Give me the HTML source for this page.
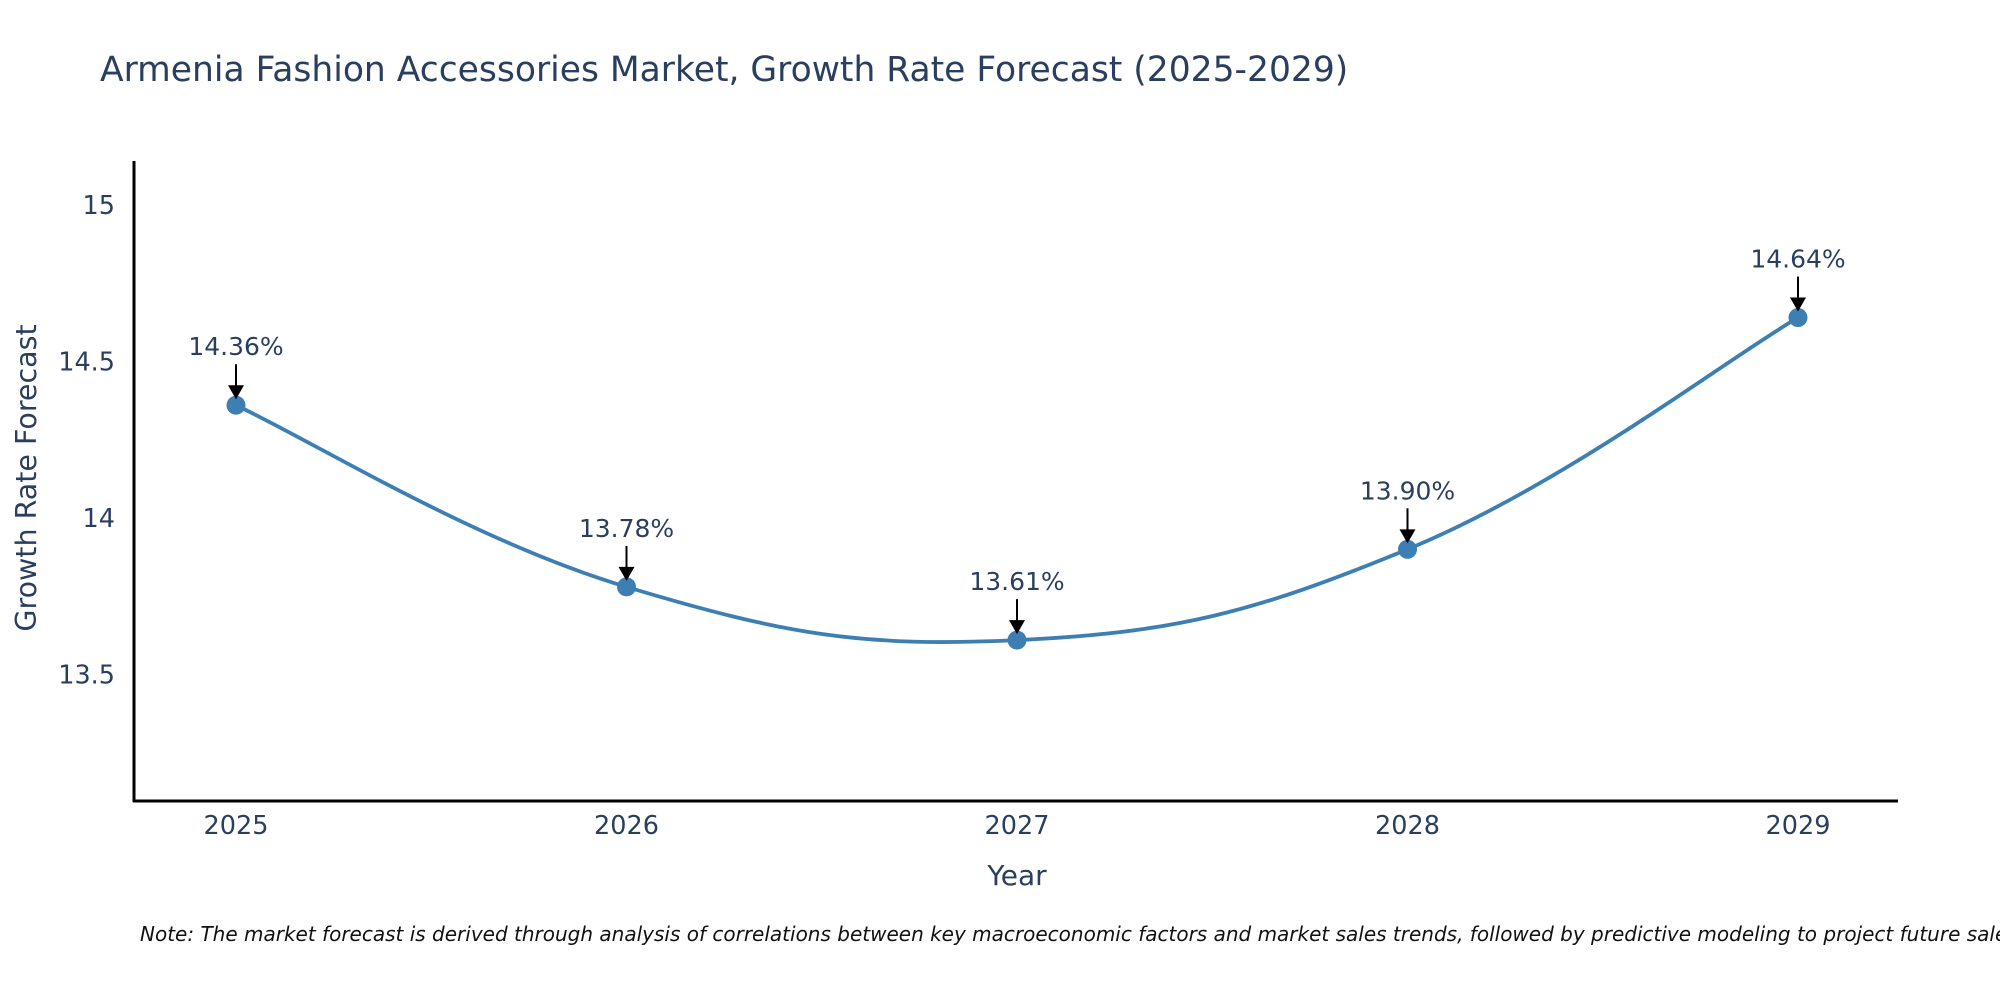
<!DOCTYPE html>
<html><head><meta charset="utf-8"><style>
html,body{margin:0;padding:0;background:#fff;}
svg{display:block;font-family:"DejaVu Sans","Liberation Sans",sans-serif;}
</style></head><body>
<svg id="chart" width="2000" height="1000" viewBox="0 0 2000 1000">
<text x="100" y="81" font-size="34.5" fill="#2a3f5f">Armenia Fashion Accessories Market, Growth Rate Forecast (2025-2029)</text>
<g id="yticks"></g>
<g id="xticks"></g>
<line x1="134" y1="161" x2="134" y2="802" stroke="#000" stroke-width="3"/>
<line x1="133" y1="801" x2="1898" y2="801" stroke="#000" stroke-width="3"/>
<path id="line" fill="none" stroke="#3d7fb3" stroke-width="3.8"/>
<g id="marks"></g>
<text x="1017" y="885" font-size="28" fill="#2a3f5f" text-anchor="middle">Year</text>
<text transform="translate(36,478) rotate(-90)" font-size="28.5" fill="#2a3f5f" text-anchor="middle">Growth Rate Forecast</text>
<text x="140" y="941" font-size="20" font-style="italic" fill="#111">Note: The market forecast is derived through analysis of correlations between key macroeconomic factors and market sales trends, followed by predictive modeling to project future sales.</text>
</svg>
<script>
const years = [2025, 2026, 2027, 2028, 2029];
const values = [14.36, 13.78, 13.61, 13.90, 14.64];
const labels = ["14.36%", "13.78%", "13.61%", "13.90%", "14.64%"];
const yTicks = [13.5, 14, 14.5, 15];

const NS = "http://www.w3.org/2000/svg";
const xS = v => 236 + (v - 2025) * 390.5;
const yS = v => 518 - (v - 14) * 313.2;
function mk(tag, attrs, parent) {
  const e = document.createElementNS(NS, tag);
  for (const k in attrs) e.setAttribute(k, attrs[k]);
  parent.appendChild(e);
  return e;
}
const yt = document.getElementById('yticks');
yTicks.forEach(t => {
  const e = mk('text', {x: 115, y: yS(t) + 9, 'font-size': 25.5, fill: '#2a3f5f', 'text-anchor': 'end'}, yt);
  
  
  e.textContent = String(t);
});
const xt = document.getElementById('xticks');
years.forEach(y => {
  const e = mk('text', {x: xS(y), y: 834, 'font-size': 25.5, fill: '#2a3f5f', 'text-anchor': 'middle'}, xt);
  
  
  e.textContent = String(y);
});
const pts = years.map((y, i) => [xS(y), yS(values[i])]);
let d = `M${pts[0][0]},${pts[0][1]}`;
const t = 0.2;
for (let i = 0; i < pts.length - 1; i++) {
  const p0 = pts[Math.max(0, i - 1)], p1 = pts[i], p2 = pts[i + 1], p3 = pts[Math.min(pts.length - 1, i + 2)];
  const c1 = [p1[0] + (p2[0] - p0[0]) * t, p1[1] + (p2[1] - p0[1]) * t];
  const c2 = [p2[0] - (p3[0] - p1[0]) * t, p2[1] - (p3[1] - p1[1]) * t];
  d += ` C${c1[0]},${c1[1]} ${c2[0]},${c2[1]} ${p2[0]},${p2[1]}`;
}
document.getElementById('line').setAttribute('d', d);
const g = document.getElementById('marks');
pts.forEach((p, i) => {
  const c = mk('circle', {cx: p[0], cy: p[1], r: 9.5, fill: '#3d7fb3'}, g);
  
  
  const l = mk('line', {x1: p[0], y1: p[1] - 41, x2: p[0], y2: p[1] - 18, stroke: '#000', 'stroke-width': 2}, g);
  
  
  const a = mk('polygon', {points: `${p[0]-8},${p[1]-20} ${p[0]+8},${p[1]-20} ${p[0]},${p[1]-6}`, fill: '#000'}, g);
  
  
  const tx = mk('text', {x: p[0], y: p[1] - 50, 'font-size': 25, fill: '#2a3f5f', 'text-anchor': 'middle'}, g);
  
  
  tx.textContent = labels[i];
});
</script>
</body></html>
